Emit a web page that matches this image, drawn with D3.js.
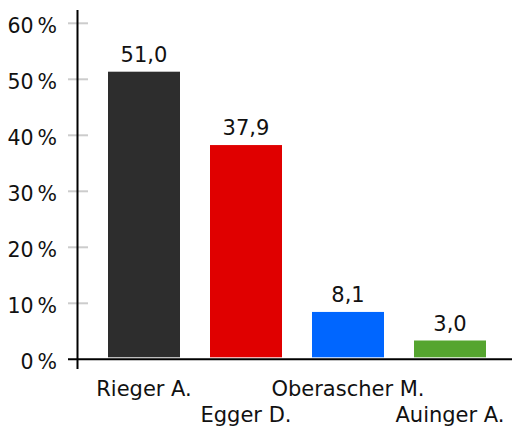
<!DOCTYPE html>
<html>
<head>
<meta charset="utf-8">
<script src="https://cdn.jsdelivr.net/npm/d3@7"></script>
<style>
  html, body { margin: 0; padding: 0; background: #fff; }
  svg { display: block; font-family: "DejaVu Sans", sans-serif; }
</style>
</head>
<body>
<svg id="chart" width="512" height="427"></svg>
<script>
const categories = ["Rieger A.", "Egger D.", "Oberascher M.", "Auinger A."];
const values = [51.0, 37.9, 8.1, 3.0];
const colors = ["#2d2d2d", "#e00000", "#0066ff", "#55a52f"];
const yTicks = [0, 10, 20, 30, 40, 50, 60];

const svg = d3.select("#chart");
const locale = d3.formatLocale({decimal: ",", thousands: ".", grouping: [3], currency: ["", " €"]});
const fmt = locale.format(".1f");

const y = d3.scaleLinear().domain([0, 60]).range([359.3, 23.3]);
const x = d3.scaleBand().domain(categories).range([93, 501]).paddingInner(30 / 102).paddingOuter(15 / 102);

// tick marks
svg.append("g").selectAll("line").data(yTicks.filter(d => d > 0)).join("line")
  .attr("x1", 68).attr("x2", 88)
  .attr("y1", d => y(d)).attr("y2", d => y(d))
  .attr("stroke", "#cccccc").attr("stroke-width", 2);

// tick labels
const tl = svg.append("g").selectAll("text").data(yTicks).join("text")
  .attr("x", 57).attr("y", d => y(d) + 10)
  .attr("text-anchor", "end")
  .attr("font-size", 20.5).attr("fill", "#111");
tl.append("tspan").text(d => d);
tl.append("tspan").attr("dx", 4).text("%");

// bars
svg.append("g").selectAll("rect").data(values).join("rect")
  .attr("x", (d, i) => x(categories[i]))
  .attr("width", x.bandwidth())
  .attr("y", d => y(d) - 2)
  .attr("height", d => y(0) - y(d))
  .attr("fill", (d, i) => colors[i]);

// value labels
svg.append("g").selectAll("text").data(values).join("text")
  .attr("x", (d, i) => x(categories[i]) + x.bandwidth() / 2)
  .attr("y", d => y(d) - 2 - 10)
  .attr("text-anchor", "middle")
  .attr("font-size", 21).attr("fill", "#111")
  .text(d => fmt(d));

// axes lines
svg.append("line").attr("x1", 77.5).attr("x2", 77.5).attr("y1", 10).attr("y2", 369)
  .attr("stroke", "#000").attr("stroke-width", 2);
svg.append("line").attr("x1", 68).attr("x2", 512).attr("y1", y(0)).attr("y2", y(0))
  .attr("stroke", "#000").attr("stroke-width", 2);

// category labels (alternating rows)
svg.append("g").selectAll("text").data(categories).join("text")
  .attr("x", d => x(d) + x.bandwidth() / 2)
  .attr("y", (d, i) => i % 2 === 0 ? 395.5 : 421.5)
  .attr("text-anchor", "middle")
  .attr("font-size", 21).attr("fill", "#111")
  .text(d => d);
</script>
</body>
</html>
